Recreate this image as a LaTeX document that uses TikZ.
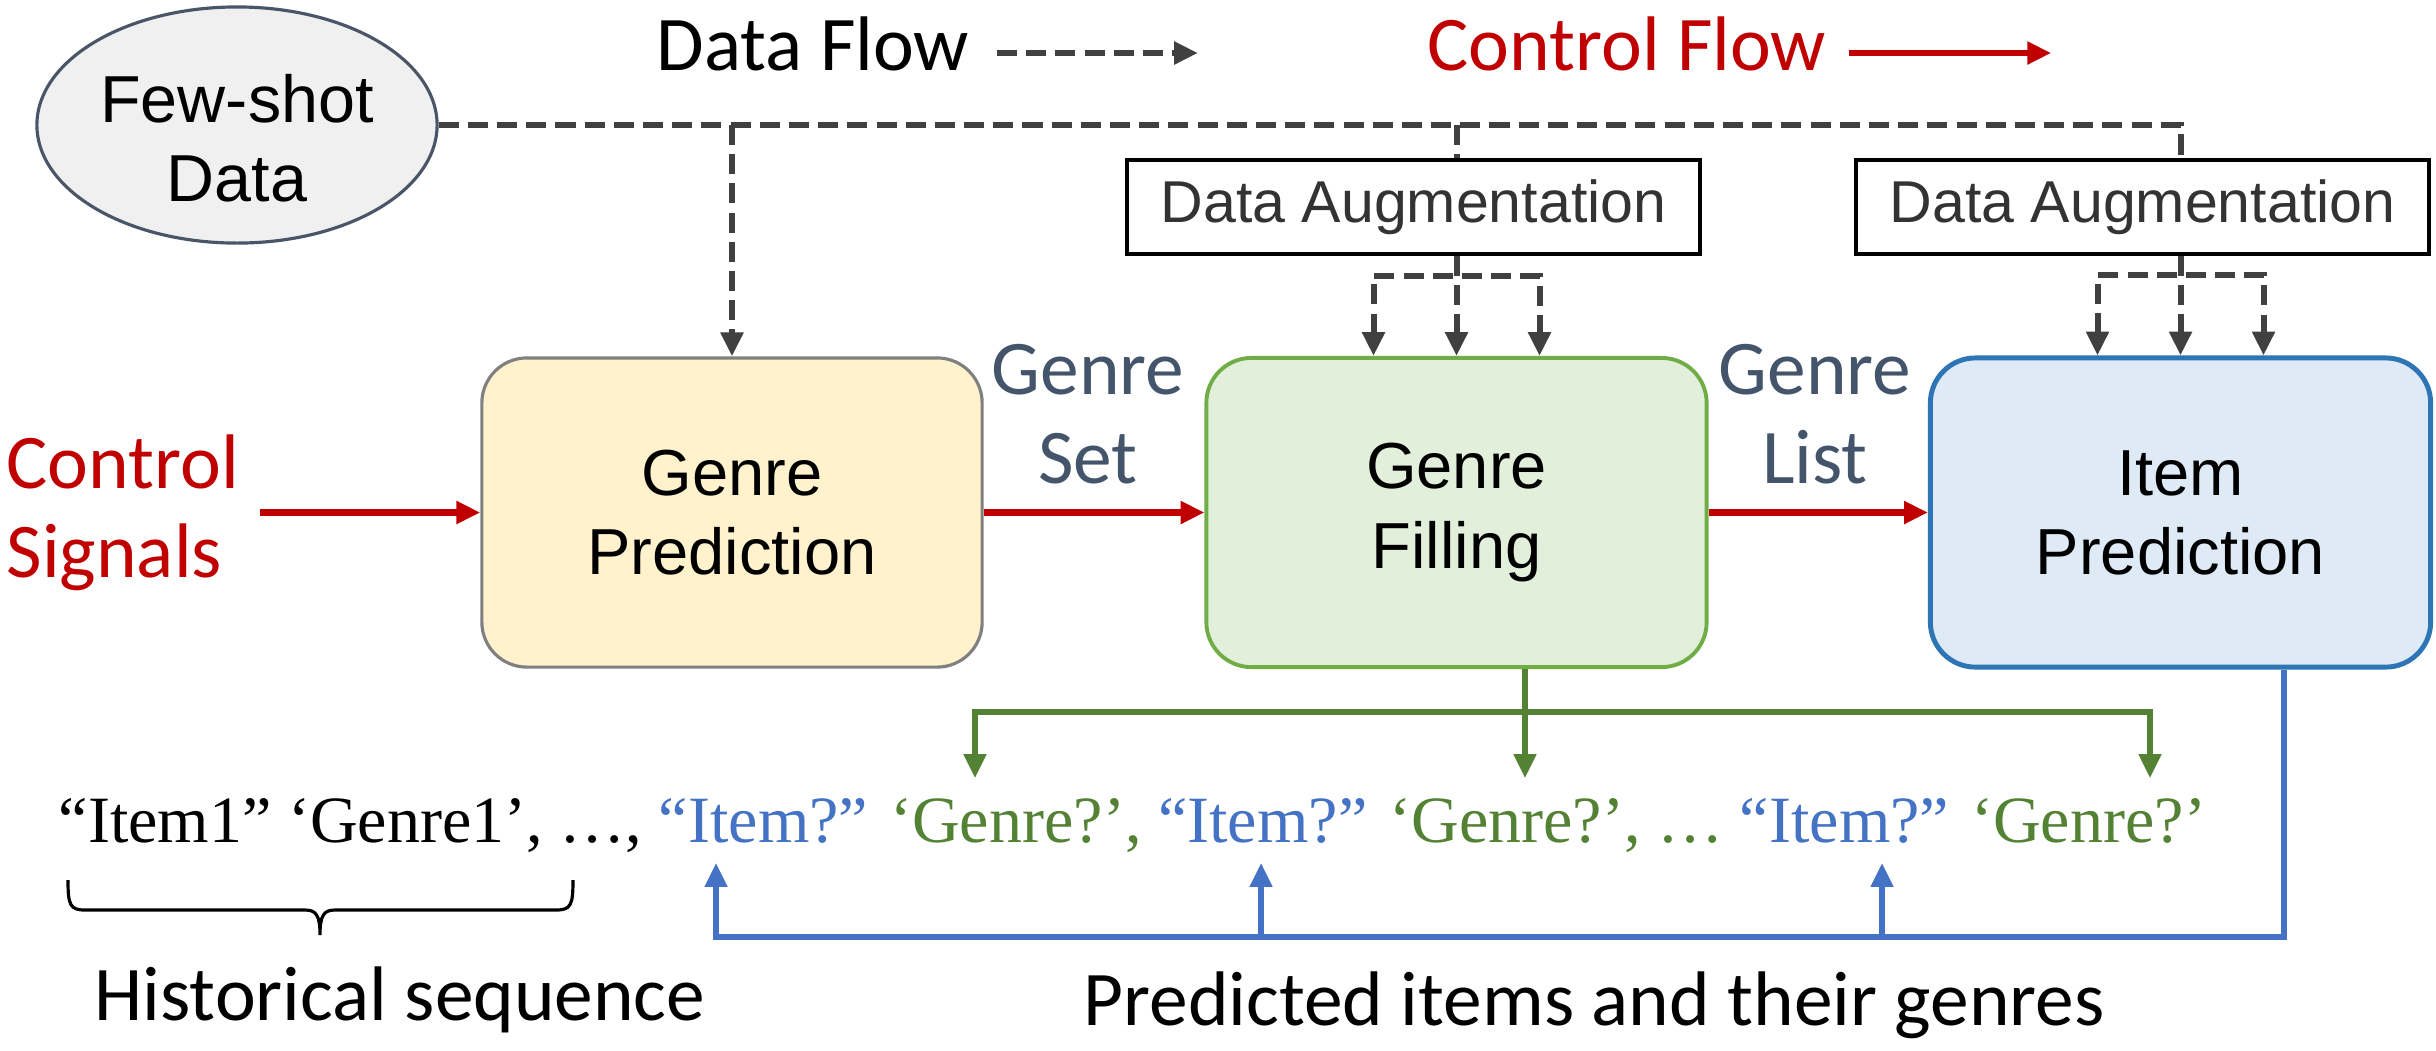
\documentclass[tikz,border=0pt]{standalone}
\usepackage{fontspec}
\setmainfont{Liberation Serif}
\newfontfamily\arialf{Liberation Sans}
\newfontfamily\calib{Carlito}
\usetikzlibrary{arrows.meta,shapes.geometric}
\definecolor{dgray}{HTML}{404040}
\definecolor{cred}{HTML}{C00000}
\definecolor{slate}{HTML}{44546A}
\definecolor{cgreen}{HTML}{548235}
\definecolor{cblue}{HTML}{4472C4}
\definecolor{eline}{HTML}{4A5568}
\definecolor{efill}{HTML}{F0F0F0}
\definecolor{gpfill}{HTML}{FFF2CC}
\definecolor{gpline}{HTML}{808080}
\definecolor{gffill}{HTML}{E2EFDA}
\definecolor{gfline}{HTML}{70AD47}
\definecolor{ipfill}{HTML}{DEEBF7}
\definecolor{ipline}{HTML}{2E75B6}
\definecolor{datext}{HTML}{333333}
\newcommand\calsz{\calib\fontsize{22pt}{25.3pt}\selectfont}
\newcommand\arsz{\arialf\fontsize{18.5pt}{22.5pt}\selectfont}
\newcommand\fewsz{\arialf\fontsize{18.9pt}{22.5pt}\selectfont}
\newcommand\dasz{\arialf\fontsize{16.8pt}{20pt}\selectfont}
\newcommand\seqsz{\fontsize{18.8pt}{23pt}\selectfont}
\begin{document}
\begin{tikzpicture}[x=0.01cm,y=-0.01cm,
  proc/.style={draw, rounded corners=0.45cm, minimum width=5cm, minimum height=3.09cm, inner sep=0pt, align=center, font=\arsz},
  dabox/.style={draw=black, line width=1.1pt, minimum width=5.73cm, minimum height=0.94cm, inner sep=0pt, font=\dasz, text=datext},
  lbl/.style={inner sep=0pt, font=\calsz},
  tri/.style={-{Triangle[length=6.8pt,width=6.2pt]}},
  tritwo/.style={{Triangle[length=6.8pt,width=6.2pt]}-{Triangle[length=6.8pt,width=6.2pt]}},
  dflow/.style={draw=dgray, line width=1.7pt, dash pattern=on 5.7pt off 2.6pt},
  cflow/.style={draw=cred, line width=1.8pt},
  gline/.style={draw=cgreen, line width=1.5pt},
  bline/.style={draw=cblue, line width=1.5pt}]
\useasboundingbox (0,0) rectangle (2436,1050);

% nodes
\node[ellipse, draw=eline, fill=efill, line width=0.9pt, minimum width=4.0cm, minimum height=2.36cm, inner sep=0pt] (few) at (237,125) {};
\node[align=center, font=\fewsz, inner sep=0pt] (fewtext) at (237,138) {Few-shot\\Data};
\node[proc, draw=gpline, fill=gpfill, line width=0.9pt] (gp) at (732,512.5) {Genre\\Prediction};
\node[proc, draw=gfline, fill=gffill, line width=1.1pt] (gf) at (1456.5,512.5) {Genre\\Filling};
\node[proc, draw=ipline, fill=ipfill, line width=1.4pt] (ip) at (2180.5,512.5) {Item\\Prediction};
\node[dabox] (da1) at (1413.5,207) {Data Augmentation};
\node[dabox] (da2) at (2142.5,207) {Data Augmentation};

\node[lbl, text=cred, align=left, anchor=west] (cs) at (6,513) {Control\\Signals};
\node[lbl, text=slate, align=center] (gs) at (1088,414) {Genre\\Set};
\node[lbl, text=slate, align=center] (gl) at (1815,414) {Genre\\List};
\node[lbl, anchor=base west] (dfl) at (656,70) {Data Flow};
\node[lbl, anchor=base west, text=cred] (cfl) at (1427,70) {Control Flow};

\node[font=\seqsz, anchor=base west, inner sep=0pt] (seq) at (58,842) {“Item1” ‘Genre1’, …, \textcolor{cblue}{“Item?”} \textcolor{cgreen}{‘Genre?’,} \textcolor{cblue}{“Item?”} \textcolor{cgreen}{‘Genre?’, …} \textcolor{cblue}{“Item?”} \textcolor{cgreen}{‘Genre?’}};
\node[lbl, anchor=base] (hist) at (400,1020) {Historical sequence};
\node[lbl, anchor=base] (pred) at (1594,1025) {Predicted items and their genres};

% legend arrows
\draw[dflow,tri] (dfl.base east) ++(27,-17) -- ++(201,0);
\draw[cflow,tri] (cfl.base east) ++(22,-17) -- ++(202,0);

% data flow
\draw[dflow] (few.east) -- (few.east -| ip.north) -- (da2.north -| ip.north);
\draw[dflow,tri] (few.east -| gp.north) -- (gp.north);
\draw[dflow] (few.east -| gf.north) -- (da1.north -| gf.north);
\draw[dflow,tri] (da1.south -| gf.north) -- (gf.north);
\draw[dflow,tri] (da2.south -| ip.north) -- (ip.north);
\path (gf.north) ++(-83,-80) coordinate (a1L) ++(166,0) coordinate (a1R);
\path (ip.north) ++(-83,-80) coordinate (a2L) ++(166,0) coordinate (a2R);
\draw[dflow,tritwo] (gf.north -| a1L) -- (a1L) -- (a1R) -- (gf.north -| a1R);
\draw[dflow,tritwo] (ip.north -| a2L) -- (a2L) -- (a2R) -- (ip.north -| a2R);

% control flow
\coordinate (csout) at (260,512.5);
\draw[cflow,tri] (csout) -- (gp.west);
\draw[cflow,tri] (gp.east) -- (gf.west);
\draw[cflow,tri] (gf.east) -- (ip.west);

% green
\coordinate (gL) at (975,712);
\coordinate (gM) at (1525,712);
\coordinate (gR) at (2150,712);
\coordinate (gtip) at (0,778);
\draw[gline,tritwo] (gL |- gtip) -- (gL) -- (gR) -- (gR |- gtip);
\draw[gline,tri] (gf.south -| gM) -- (gM |- gtip);

% blue
\coordinate (bR) at (2284,937);
\coordinate (bL) at (716,937);
\coordinate (bM) at (1261,937);
\coordinate (bN) at (1882,937);
\coordinate (btip) at (0,863);
\draw[bline,tri] (ip.south -| bR) -- (bR) -- (bL) -- (bL |- btip);
\draw[bline,tri] (bM) -- (bM |- btip);
\draw[bline,tri] (bN) -- (bN |- btip);

% brace
\draw[line width=0.9pt] (68,880) .. controls (68,905) and (70,910) .. (85,910) -- (305,910) .. controls (316,910) and (320,915) .. (320,935) .. controls (320,915) and (324,910) .. (335,910) -- (556,910) .. controls (571,910) and (573,905) .. (573,880);
\end{tikzpicture}
\end{document}
